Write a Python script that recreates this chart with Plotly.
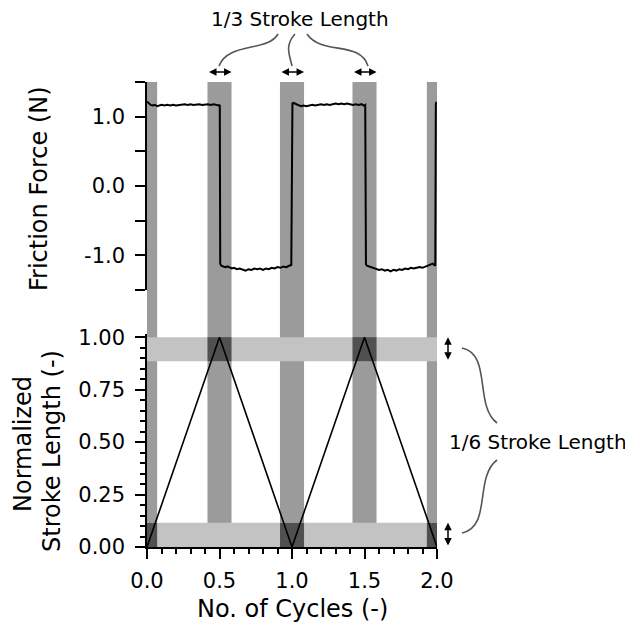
import plotly.graph_objects as go

# ---------------- data ----------------
cycles_x = [0.0, 0.5, 1.0, 1.5, 2.0]
stroke_y = [0.0, 1.0, 0.0, 1.0, 0.0]

friction_x = [
    0.000, 0.008, 0.016, 0.025, 0.040, 0.055, 0.070, 0.085, 0.100, 0.120,
    0.140, 0.160, 0.180, 0.200, 0.220, 0.240, 0.260, 0.280, 0.300, 0.320,
    0.340, 0.360, 0.380, 0.400, 0.420, 0.440, 0.460, 0.480, 0.495, 0.502,
    0.505, 0.512,
    0.525, 0.540, 0.555, 0.570, 0.585, 0.600, 0.620, 0.640, 0.660, 0.680,
    0.700, 0.720, 0.740, 0.760, 0.780, 0.800, 0.820, 0.840, 0.860, 0.880,
    0.900, 0.920, 0.940, 0.960, 0.980, 0.995,
    1.003, 1.008,
    1.020, 1.035, 1.050, 1.065, 1.080, 1.100, 1.120, 1.140, 1.160, 1.180,
    1.200, 1.220, 1.240, 1.260, 1.280, 1.300, 1.320, 1.340, 1.360, 1.380,
    1.400, 1.420, 1.440, 1.460, 1.480, 1.495, 1.505,
    1.510, 1.517,
    1.530, 1.545, 1.560, 1.580, 1.600, 1.620, 1.640, 1.660, 1.680, 1.700,
    1.720, 1.740, 1.760, 1.780, 1.800, 1.820, 1.840, 1.860, 1.880, 1.900,
    1.920, 1.940, 1.955, 1.970, 1.980, 1.988,
    1.992, 1.996, 2.000,
]
friction_y = [
    1.22, 1.20, 1.18, 1.17, 1.16, 1.17, 1.15, 1.16, 1.17, 1.16,
    1.17, 1.16, 1.17, 1.16, 1.17, 1.17, 1.18, 1.17, 1.18, 1.17,
    1.18, 1.18, 1.17, 1.18, 1.18, 1.17, 1.18, 1.17, 1.16, 1.17,
    -1.12, -1.15,
    -1.16, -1.17, -1.16, -1.18, -1.19, -1.18, -1.20, -1.19, -1.21, -1.22,
    -1.20, -1.21, -1.19, -1.20, -1.19, -1.21, -1.19, -1.20, -1.18, -1.19,
    -1.17, -1.18, -1.16, -1.17, -1.15, -1.14,
    1.19, 1.20,
    1.19, 1.17, 1.16, 1.15, 1.16, 1.15, 1.16, 1.17, 1.16, 1.17,
    1.18, 1.17, 1.18, 1.17, 1.18, 1.19, 1.18, 1.19, 1.18, 1.19,
    1.18, 1.17, 1.18, 1.17, 1.18, 1.16, 1.17,
    -1.13, -1.15,
    -1.16, -1.17, -1.18, -1.19, -1.21, -1.20, -1.22, -1.21, -1.23, -1.21,
    -1.22, -1.20, -1.21, -1.19, -1.20, -1.18, -1.19, -1.18, -1.17, -1.18,
    -1.16, -1.15, -1.13, -1.12, -1.14, -1.15,
    1.18, 1.21, 1.19,
]

# shaded regions (x in cycles, y in normalized stroke)
vband_x0 = [0.0, 0.417, 0.917, 1.417, 1.93]
vband_x1 = [0.07, 0.583, 1.083, 1.583, 2.0]
hband_y0 = [0.0, 0.885]
hband_y1 = [0.115, 1.0]

x_ticks = [0.0, 0.5, 1.0, 1.5, 2.0]
force_ticks = [-1.0, 0.0, 1.0]
force_ticktext = ["-1.0", "0.0", "1.0"]
stroke_ticks = [0.0, 0.25, 0.5, 0.75, 1.0]

# ---------------- layout geometry ----------------
# the page body adds an 8px offset, so the figure is 8px smaller and shifted
OFF = 8
W, H = 633 - OFF, 627 - OFF
FONT = "DejaVu Sans"


def px(xp):
    return (xp - OFF) / W


def py(yp):
    return 1 - (yp - OFF) / H


X_DOM = [px(147), px(437)]
TOP_DOM = [py(290), py(82)]
BOT_DOM = [py(547), py(334)]

V_COLOR = "#9b9b9b"
H_COLOR = "#c3c3c3"
O_COLOR = "#505050"

fig = go.Figure()

fig.add_trace(go.Scatter(x=friction_x, y=friction_y, mode="lines",
                         line=dict(color="black", width=2),
                         xaxis="x", yaxis="y", showlegend=False))
fig.add_trace(go.Scatter(x=cycles_x, y=stroke_y, mode="lines",
                         line=dict(color="black", width=1.6),
                         xaxis="x2", yaxis="y2", showlegend=False))

shapes = []
# horizontal bands
for y0, y1 in zip(hband_y0, hband_y1):
    shapes.append(dict(type="rect", xref="x2", yref="y2", x0=cycles_x[0], x1=cycles_x[-1],
                       y0=y0, y1=y1, fillcolor=H_COLOR, line=dict(width=0), layer="below"))
# vertical bands through both panels
for x0, x1 in zip(vband_x0, vband_x1):
    shapes.append(dict(type="rect", xref="x2", yref="paper", x0=x0, x1=x1,
                       y0=BOT_DOM[0], y1=TOP_DOM[1], fillcolor=V_COLOR,
                       line=dict(width=0), layer="below"))
# overlaps at turning points
for x0, x1, s in zip(vband_x0, vband_x1, stroke_y):
    k = int(round(s))
    shapes.append(dict(type="rect", xref="x2", yref="y2", x0=x0, x1=x1,
                       y0=hband_y0[k], y1=hband_y1[k], fillcolor=O_COLOR,
                       line=dict(width=0), layer="below"))


def curve(p0, c1, c2, p1):
    pts = [p0, c1, c2, p1]
    s = "M{},{} C{},{} {},{} {},{}".format(*[v for p in pts for v in (px(p[0]), py(p[1]))])
    return dict(type="path", xref="paper", yref="paper", path=s,
                line=dict(color="#555555", width=1.6))


shapes += [
    curve((278, 34), (268, 52), (228, 42), (219, 66)),
    curve((295, 34), (284, 46), (290, 56), (292, 66)),
    curve((307, 34), (322, 56), (360, 40), (368, 66)),
    curve((462, 348), (492, 354), (474, 406), (497, 423)),
    curve((497, 460), (474, 477), (492, 527), (462, 533)),
]
fig.update_layout(shapes=shapes)


def label(text, xp, yp, size, angle=0):
    return dict(text=text, x=px(xp), y=py(yp), xref="paper", yref="paper",
                xanchor="center", yanchor="middle", textangle=angle,
                showarrow=False, font=dict(size=size), borderpad=0)


annotations = [
    label("Friction Force (N)", 39, 189, 24, -90),
    label("Normalized", 23, 444, 24, -90),
    label("Stroke Length (-)", 52, 451, 24, -90),
    label("No. of Cycles (-)", 292, 609, 24),
    label("1/3 Stroke Length", 300, 19, 20),
    label("1/6 Stroke Length", 538, 442, 20),
]
# horizontal double arrows over the inner vertical bands
for x0, x1 in zip(vband_x0[1:-1], vband_x1[1:-1]):
    annotations.append(dict(text="", x=x1, y=py(72), xref="x2", yref="paper",
                            ax=x0, ay=0, axref="x2", ayref="pixel",
                            showarrow=True, arrowhead=2, arrowside="end+start",
                            arrowsize=1, arrowwidth=1.5, arrowcolor="black",
                            standoff=0, startstandoff=0))
# vertical double arrows at the right
for y0, y1 in zip(hband_y0, hband_y1):
    annotations.append(dict(text="", x=px(448), y=y1, xref="paper", yref="y2",
                            ax=0, ay=y0, axref="pixel", ayref="y2",
                            showarrow=True, arrowhead=2, arrowside="end+start",
                            arrowsize=1, arrowwidth=1.5, arrowcolor="black",
                            standoff=0, startstandoff=0))

fig.update_layout(annotations=annotations)

axis_common = dict(ticks="outside", ticklen=10, tickwidth=1.5, tickcolor="black",
                   showline=True, linecolor="black", linewidth=1.5,
                   showgrid=False, zeroline=False, automargin=False,
                   tickfont=dict(size=21))

fig.update_layout(
    width=W, height=H,
    margin=dict(l=0, r=0, t=0, b=0, pad=0, autoexpand=False),
    paper_bgcolor="white", plot_bgcolor="rgba(0,0,0,0)",
    font=dict(family=FONT, color="black", size=20),
    xaxis=dict(domain=X_DOM, range=[0, 2], matches="x2", visible=False,
               anchor="y", automargin=False),
    yaxis=dict(domain=TOP_DOM, range=[-1.5, 1.5], anchor="x",
               tickvals=force_ticks, ticktext=force_ticktext,
               minor=dict(dtick=0.5, tick0=0, ticks="outside", ticklen=10,
                          tickwidth=1.5, tickcolor="black"),
               ticklabelstandoff=6, **axis_common),
    xaxis2=dict(domain=X_DOM, range=[0, 2], anchor="y2",
                tickvals=x_ticks, tickformat=".1f",
                minor=dict(dtick=0.1, tick0=0, ticks="outside", ticklen=5,
                           tickwidth=1.5, tickcolor="black"),
                ticklabelstandoff=4, **axis_common),
    yaxis2=dict(domain=BOT_DOM, range=[0, 1.015], anchor="x2",
                tickvals=stroke_ticks, tickformat=".2f",
                minor=dict(dtick=0.05, tick0=0, ticks="outside", ticklen=5,
                           tickwidth=1.5, tickcolor="black"),
                ticklabelstandoff=6, **axis_common),
)

fig.write_html("out.html")
